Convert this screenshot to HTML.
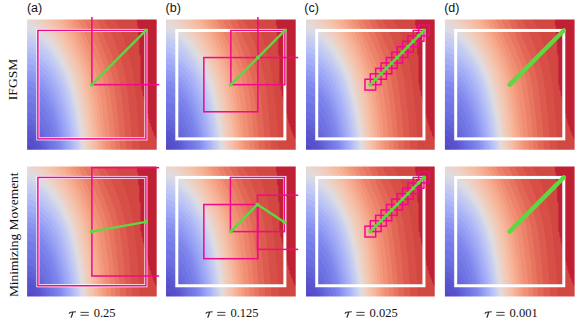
<!DOCTYPE html>
<html><head><meta charset="utf-8">
<style>
html,body{margin:0;padding:0;background:#fff;width:578px;height:322px;overflow:hidden;}
svg{display:block;}
.lab{font-family:"Liberation Sans",sans-serif;font-size:12.5px;fill:#111;}
.rl{font-family:"Liberation Serif",serif;font-size:13.5px;fill:#111;}
.rl2{font-family:"Liberation Serif",serif;font-size:13.4px;fill:#111;}
.cap{font-family:"Liberation Serif",serif;font-size:12.5px;fill:#111;}
.tau{font-style:italic;}
</style></head><body>
<svg width="578" height="322" viewBox="0 0 578 322">
<defs>
<clipPath id="cpo"><rect x="-2.5" y="-2.7" width="135" height="135.4"/></clipPath>
<g id="bg">
<rect x="-3" y="-3" width="136" height="136" fill="rgb(82, 72, 198)"/>
<path d="M-1.5 -2.6 132.6 -2.6 132.6 132.6 8.6 132.6 6.4 129.2 5.4 127.9 3.1 126.1 0.8 125.3 -1.5 125.4 -2.6 125.8 -2.6 -2.6 -1.5 -2.6Z" fill="rgb(87, 79, 203)"/>
<path d="M-1.5 -2.6 132.6 -2.6 132.6 132.6 13.1 132.6 11.3 128.1 9.5 124.6 7.6 121.8 5.4 119.4 4.2 118.5 1.9 117.4 -0.3 117.2 -2.6 117.7 -2.6 -2.6 -1.5 -2.6Z" fill="rgb(91, 86, 208)"/>
<path d="M-1.5 -2.6 132.6 -2.6 132.6 132.6 16.2 132.6 14.4 127 12.2 121.6 9.9 117.6 7.6 114.6 5.4 112.5 3.1 111.1 0.8 110.5 -1.5 110.6 -2.6 110.9 -2.6 -2.6 -1.5 -2.6Z" fill="rgb(96, 94, 213)"/>
<path d="M-1.5 -2.6 132.6 -2.6 132.6 132.6 18.7 132.6 16.8 125.8 14.8 120.1 12.2 114.7 9.8 111 6.7 107.6 4.2 105.8 3.1 105.3 0.8 104.8 -1.5 104.9 -2.6 105.2 -2.6 -2.6 -1.5 -2.6Z" fill="rgb(101, 101, 218)"/>
<path d="M-1.5 -2.6 132.6 -2.6 132.6 132.6 21.2 132.6 19.2 124.6 16.7 117.3 13.9 111 11 106.3 9.4 104.2 7.6 102.4 6.5 101.4 4.2 100 3.1 99.5 0.8 99 -1.5 99.1 -2.6 99.4 -2.6 -2.6 -1.5 -2.6Z" fill="rgb(106, 108, 223)"/>
<path d="M-1.5 -2.6 132.6 -2.6 132.6 132.6 24.1 132.6 22 123.5 19.3 114.4 16.7 108 13.3 101.7 9.9 97.1 7.6 95 5.4 93.4 4.2 92.8 1.9 92.1 -0.3 91.9 -2.6 92.2 -2.6 -2.6 -1.5 -2.6Z" fill="rgb(112, 116, 227)"/>
<path d="M-1.5 -2.6 132.6 -2.6 132.6 132.6 27.7 132.6 25.4 121.2 22.6 111 21.1 106.5 19.2 101.9 17.6 98.5 15.6 94.8 13.3 91.3 11 88.5 8.8 86.3 6.5 84.7 4.2 83.5 1.9 82.9 -0.3 82.7 -2.6 83 -2.6 -2.6 -1.5 -2.6Z" fill="rgb(117, 124, 232)"/>
<path d="M-1.5 -2.6 132.6 -2.6 132.6 132.6 31 132.6 29.9 125.8 28.5 119 25.6 107.6 23.7 101.9 22 97.4 20.1 93.1 17.9 88.7 15.6 85 13.3 81.9 10.8 79.2 7.6 76.6 5.4 75.4 3.1 74.6 0.8 74.2 -2.6 74.4 -2.6 -2.6 -1.5 -2.6Z" fill="rgb(124, 132, 236)"/>
<path d="M-1.5 -2.6 132.6 -2.6 132.6 132.6 33.9 132.6 32.6 124.3 31.4 117.8 29.9 111 28.1 104.2 26.3 98.5 24.2 92.8 21.8 87.2 19.5 82.6 16.7 78.1 14.4 75.1 12 72.4 8.8 69.6 6.5 68.2 3.1 67 0.8 66.6 -2.6 66.9 -2.6 -2.6 -1.5 -2.6Z" fill="rgb(131, 140, 238)"/>
<path d="M-1.5 -2.6 132.6 -2.6 132.6 132.6 36.1 132.6 33.8 117.8 32.1 109.9 30.3 102.9 28.1 95.3 26 89.4 23.5 83.6 21.3 78.9 18.8 74.7 15.6 70.1 12.5 66.7 9.9 64.4 7.6 62.9 4.2 61.4 0.8 60.8 -2.6 61 -2.6 -2.6 -1.5 -2.6Z" fill="rgb(139, 148, 241)"/>
<path d="M-1.5 -2.6 132.6 -2.6 132.6 132.6 38.1 132.6 36.9 123.5 35.5 115.6 33.8 107.2 31.9 99.7 29.9 92.8 27.5 86 24.7 79.2 22.4 74.6 19.8 70.1 16.7 65.6 13.3 61.8 9.9 58.9 6.5 57 3.1 55.8 -0.3 55.5 -2.6 55.7 -2.6 -2.6 -1.5 -2.6Z" fill="rgb(147, 156, 243)"/>
<path d="M-1.5 -2.6 132.6 -2.6 132.6 132.6 40.1 132.6 38.8 122.4 37.2 113.3 35.6 105.3 33.8 97.8 31.5 89.9 29.2 83.2 26.7 76.9 23.5 70.3 20.8 65.6 17.9 61.2 15.6 58.4 12.2 55.4 9.9 53.7 7.6 52.4 4.2 51 0.8 50.3 -2.6 50.5 -2.6 -2.6 -1.5 -2.6Z" fill="rgb(155, 165, 245)"/>
<path d="M-1.5 -2.6 132.6 -2.6 132.6 132.6 42.4 132.6 41.2 122.4 39.7 113.3 38 104.2 35.8 95.1 33.6 87.2 30.9 79.2 28.1 72 25 65.6 22.4 60.9 20.2 57.6 16.7 53.8 12.2 49.7 7.6 46.8 4.2 45.3 0.8 44.5 -0.3 44.4 -2.6 44.6 -2.6 -2.6 -1.5 -2.6Z" fill="rgb(164, 173, 245)"/>
<path d="M-1.5 -2.6 132.6 -2.6 132.6 132.6 44.9 132.6 44 124.7 42.1 112.1 40.6 103.7 38.3 93.6 36 85.1 33 75.8 30.3 68.8 26.9 61.3 24.9 57.6 21.3 52.6 16.7 47.5 12.2 43.5 7.8 40.6 4.2 38.9 0.8 38 -0.3 37.9 -2.6 38.1 -2.6 -2.6 -1.5 -2.6Z" fill="rgb(173, 182, 246)"/>
<path d="M-1.5 -2.6 132.6 -2.6 132.6 132.6 47 132.6 45.7 121.2 44.2 111 42.3 100.8 40.3 91.7 37.9 82.6 35.1 73.5 32.2 65.6 29.2 58.8 25.8 53.2 22.4 48.5 17.9 43.3 13.3 38.9 8.8 35.7 5.4 33.9 3.1 33.1 0.8 32.5 -0.3 32.3 -2.6 32.5 -2.6 -2.6 -1.5 -2.6Z" fill="rgb(182, 191, 246)"/>
<path d="M-1.5 -2.6 132.6 -2.6 132.6 132.6 49.1 132.6 48 122.4 46.6 112.1 44.9 101.9 42.8 92 40.6 82.8 38.2 74.7 35.6 66.7 32.5 58.8 28.7 51.9 24.7 46 20.1 40.4 14.4 34.6 9.9 31 5.4 28.5 3.1 27.6 0.8 26.9 -0.3 26.8 -2.6 27 -2.6 -2.6 -1.5 -2.6Z" fill="rgb(191, 199, 244)"/>
<path d="M-1.5 -2.6 132.6 -2.6 132.6 132.6 51.1 132.6 50 122.4 48.7 112.1 47 101.9 45.1 92.3 42.9 82.6 40.6 74.2 38.3 66.9 35.3 58.8 31.5 51 26.9 43.6 22.4 37.5 16.7 31.4 12.2 27.3 8.8 24.9 6.5 23.6 3.8 22.4 0.8 21.5 -0.3 21.4 -2.6 21.6 -2.6 -2.6 -1.5 -2.6Z" fill="rgb(199, 205, 240)"/>
<path d="M-1.5 -2.6 132.6 -2.6 132.6 132.6 52.8 132.6 51.7 122.4 50.4 112.1 48.8 101.9 47.1 92.8 45.1 83.6 42.8 74.8 40.5 66.7 37.8 58.8 32.8 48.5 28.1 40.6 23.5 34.2 17.9 27.9 14.4 24.6 12.2 22.7 7.6 19.7 4.2 18.1 1.9 17.3 -0.3 16.8 -2.6 17 -2.6 -2.6 -1.5 -2.6Z" fill="rgb(208, 211, 235)"/>
<path d="M-1.5 -2.6 132.6 -2.6 132.6 132.6 54.4 132.6 53.3 121.2 52 111 50.5 100.8 48.8 91.7 46.8 82.6 44.6 73.5 41.9 64.4 39.6 57.6 35.4 48.5 31.1 40.6 25.8 32.6 21.3 27.1 16.7 22.3 14.4 20.2 12.2 18.3 8.8 15.9 5.4 14.1 1.9 12.8 -0.3 12.3 -2.6 12.5 -2.6 -2.6 -1.5 -2.6Z" fill="rgb(216, 218, 230)"/>
<path d="M-1.5 -2.6 132.6 -2.6 132.6 132.6 56.1 132.6 54.9 120.1 53.7 109.9 52.3 100.8 50.2 89.4 48 79.2 45.7 70.1 42.4 58.8 41 55.3 36.3 45.1 31.5 36.4 26.9 29.6 21.3 22.6 16.7 17.9 14.4 15.7 12.2 13.9 8.8 11.5 5.4 9.6 1.9 8.3 -0.3 7.8 -2.6 8 -2.6 -2.6 -1.5 -2.6Z" fill="rgb(224, 219, 222)"/>
<path d="M-1.5 -2.6 132.6 -2.6 132.6 132.6 57.9 132.6 56.7 120.1 55.2 107.6 53.4 96.2 51.3 84.9 48.5 72.7 45.7 62.2 44.2 57.6 40.9 49.7 37.2 41.7 33.5 34.9 29.2 28.1 24.7 22 21.3 18.1 16.7 13.4 13.3 10.3 9.9 7.8 5.4 5.1 1.9 3.7 -0.3 3.1 -2.6 3.3 -2.6 -2.6 -1.5 -2.6Z" fill="rgb(231, 215, 210)"/>
<path d="M-1.5 -2.6 132.6 -2.6 132.6 132.6 59.6 132.6 58.4 119 56.9 106.5 54.9 94 52.6 81.5 50 70.1 46.9 58.8 44.3 51.9 41.4 45.1 37.2 36.5 32.6 28.5 28.1 21.6 23.2 15.6 15.6 7.7 11 4 7.6 1.7 3.1 -0.6 -0.3 -1.6 -2.6 -1.5 -2.6 -2.6 -1.5 -2.6Z" fill="rgb(236, 210, 198)"/>
<path d="M8.8 -2.6 132.6 -2.6 132.6 132.6 61.5 132.6 60.7 122.4 59.6 112.1 58.4 103.1 56.2 89.4 54 78.1 51.7 67.8 49.3 58.8 48 55.3 44.3 46.3 39.4 35.7 34.9 27.3 30.3 20 26.3 14.4 22.4 10 15.6 3.1 12.2 0.2 8.4 -2.6 8.8 -2.6Z" fill="rgb(240, 204, 188)"/>
<path d="M15.6 -2.6 132.6 -2.6 132.6 132.6 63.8 132.6 61.9 112.1 59.2 92.8 57.6 83.5 55.6 73.5 53.5 64.4 51.7 57.6 48.2 48.5 43.6 38.3 39.4 30 34.4 21.3 29.9 14.4 25.8 9.1 22.4 5.4 14.6 -2.6 15.6 -2.6Z" fill="rgb(243, 198, 178)"/>
<path d="M21.3 -2.6 132.6 -2.6 132.6 132.6 66.2 132.6 64.3 112.1 61.8 92.8 60.1 82.6 58.3 73.5 56.3 64.4 54.6 57.6 51.6 49.7 47.9 40.6 43.6 31.5 38.8 22.4 34.9 15.7 30.3 9 25.8 3.3 20.4 -2.6 21.3 -2.6Z" fill="rgb(245, 191, 167)"/>
<path d="M26.9 -2.6 132.6 -2.6 132.6 132.6 68.7 132.6 67 113.3 64.6 94 61.6 75.8 57.9 58.8 54.8 49.7 51.2 40.6 47.6 32.6 43 23.5 39.3 16.7 35.2 9.9 31.5 4.4 26.1 -2.6 26.9 -2.6Z" fill="rgb(246, 182, 156)"/>
<path d="M31.5 -2.6 132.6 -2.6 132.6 132.6 71.1 132.6 69.6 113.3 67.2 94 64.3 75.8 60.9 58.8 58.3 50.8 55.3 42.9 52.6 36 49.5 29.2 44 18.2 40.6 11.9 37.2 6.2 32.8 -0.3 31.5 -2.6Z" fill="rgb(246, 174, 146)"/>
<path d="M37.2 -2.6 132.6 -2.6 132.6 132.6 73.7 132.6 73 122.4 71.9 111 69.6 91.7 67.3 76.9 63.8 58.8 58.9 44 54 31.5 49.8 22.4 47 16.7 42.1 7.6 36.1 -2.6 37.2 -2.6Z" fill="rgb(245, 164, 136)"/>
<path d="M40.6 -2.6 132.6 -2.6 132.6 132.6 76.6 132.6 75.1 113.3 73 94 70.3 75.8 67.2 58.8 64.7 50.8 61.9 42.8 59.3 36 55.9 28.1 49.7 14.5 41.5 -0.3 40.4 -2.6 40.6 -2.6Z" fill="rgb(243, 154, 126)"/>
<path d="M45.1 -2.6 132.6 -2.6 132.6 132.6 79.7 132.6 78.6 116.7 76.4 95.1 74.2 79.2 70.7 58.8 65.1 41.7 59.9 28.2 56.4 20.1 53.1 13 49.7 6.5 45.7 -0.3 44.6 -2.6 45.1 -2.6Z" fill="rgb(240, 143, 116)"/>
<path d="M49.7 -2.6 132.6 -2.6 132.6 132.6 84.3 132.6 83 113.3 81.2 95.1 78.8 76.9 75.9 58.8 71.5 46.3 67 34.9 57.5 13.3 54.2 6.5 50.6 -0.3 49.7 -2.6Z" fill="rgb(237, 130, 106)"/>
<path d="M55.3 -2.6 132.6 -2.6 132.6 132.6 89 132.6 87.8 113.3 86.1 95.1 83.8 76.9 81.1 58.8 79 51.9 75.8 42.7 71 30.3 64.4 15.4 60.5 7.6 56.1 -0.3 55.1 -2.6 55.3 -2.6Z" fill="rgb(231, 117, 96)"/>
<path d="M63.3 -2.6 132.6 -2.6 132.6 132.6 93.7 132.6 92.4 112.1 91.1 97.4 88.9 78.1 86.1 58.8 83.2 48.5 79.7 38.3 70.8 15.6 66.7 6.5 63.3 -0.3 62.5 -2.6 63.3 -2.6Z" fill="rgb(226, 103, 86)"/>
<path d="M70.1 -2.6 132.6 -2.6 132.6 132.6 99.5 132.6 98.3 113.3 96.8 95.1 94.8 76.9 92.4 58.8 89.4 47.7 86 37.3 83.3 30.3 78.1 18.9 74.4 9.9 69.9 -0.3 69.2 -2.6 70.1 -2.6Z" fill="rgb(220, 91, 78)"/>
<path d="M76.9 -2.6 132.6 -2.6 132.6 132.6 105.6 132.6 104.5 113.3 103 94 101 74.7 98.7 57.6 97.1 50.8 94.7 41.7 90.3 28.1 87.3 20.1 84.3 13.3 81.5 7.6 77.6 0.8 76.4 -2.6 76.9 -2.6Z" fill="rgb(215, 79, 71)"/>
<path d="M87.2 -2.6 132.6 -2.6 132.6 132.6 113.1 132.6 112.8 123.5 112.1 115.1 111.8 106.5 111 98.8 110.5 90.6 109.9 85.7 109.3 78.1 108.7 74.7 108.3 69 107.6 64.6 107.1 58.8 106.5 56.3 105.9 51.9 104.5 45.1 102 34.9 100.4 29.2 97.9 21.3 95.8 15.6 93.8 11 91.1 5.4 87.9 -0.3 86.9 -2.6 87.2 -2.6Z" fill="rgb(210, 71, 66)"/>
<path d="M111 -2.6 132.6 -2.6 132.6 132.6 129.7 132.6 129.2 128.1 129.1 119 128.1 117.8 128.1 116.7 127 115.6 127 113.3 125.8 112.1 125.8 111 124.7 109.9 124.7 107.6 123.6 106.5 123.6 104.2 122.5 103.1 122.5 99.7 121.4 98.5 121.4 95.1 120.2 94 120.2 90.6 119.1 89.4 119.1 86 118 84.9 118 81.5 116.9 80.3 116.9 76.9 115.7 75.8 115.7 71.2 114.6 70.1 114.6 65.6 113.5 64.4 113.4 36 112.3 34.9 112.3 19 111.2 17.9 111.1 6.5 110 5.4 110 -2.6 111 -2.6Z" fill="rgb(206, 62, 62)"/>
<path d="M111 -2.6 132.6 -2.6 132.6 122 128.4 117.8 128.4 116.7 127.3 115.6 127.3 113.3 126.2 112.1 126.2 111 125.1 109.9 125.1 107.6 124 106.5 124 104.2 122.8 103.1 122.8 99.7 121.7 98.5 121.7 95.1 120.6 94 120.6 90.6 119.4 89.4 119.4 86 118.3 84.9 118.3 81.5 117.2 80.3 117.2 76.9 116.1 75.8 116.1 71.2 114.9 70.1 114.9 65.6 113.8 64.4 113.8 36 112.6 34.9 112.6 19 111.5 17.9 111.5 6.5 110.3 5.4 110.3 -2.6 111 -2.6Z" fill="rgb(197, 40, 55)"/>
<path d="M111 -2.6 132.6 -2.6 132.6 121.6 128.8 117.8 128.8 116.7 127.7 115.6 127.7 113.3 126.6 112.1 126.6 111 125.4 109.9 125.4 107.6 124.3 106.5 124.3 104.2 123.2 103.1 123.2 99.7 122 98.5 122 95.1 120.9 94 120.9 90.6 119.8 89.4 119.8 86 118.6 84.9 118.6 81.5 117.5 80.3 117.5 76.9 116.4 75.8 116.4 71.2 115.2 70.1 115.2 65.6 114.1 64.4 114.1 36 113 34.9 112.9 19 111.8 17.9 111.8 6.5 110.7 5.4 110.7 -2.6 111 -2.6Z" fill="rgb(192, 32, 52)"/>
</g>
</defs>
<g transform="translate(27.10,19.60) scale(0.9969,1.0008)"><use href="#bg"/><path d="M-4 -4H134V134H-4ZM0 0V130H130V0Z" fill="#fff" fill-rule="evenodd"/><g clip-path="url(#cpo)"><rect x="10.83" y="10.83" width="108.33" height="108.33" fill="none" stroke="white" stroke-width="3"/>
<rect x="10.83" y="10.83" width="108.33" height="108.33" fill="none" stroke="rgb(242,8,140)" stroke-width="1.5"/>
<rect x="65.00" y="-43.33" width="108.33" height="108.33" fill="none" stroke="rgb(242,8,140)" stroke-width="1.5"/>
<polyline points="65.00,65.00 119.17,10.83" fill="none" stroke="rgb(95,215,65)" stroke-width="2.4" stroke-linejoin="round"/>
<circle cx="65.00" cy="65.00" r="2.0" fill="rgb(95,215,65)"/>
<circle cx="119.17" cy="10.83" r="2.0" fill="rgb(95,215,65)"/></g></g>
<g transform="translate(166.00,19.60) scale(0.9977,1.0008)"><use href="#bg"/><path d="M-4 -4H134V134H-4ZM0 0V130H130V0Z" fill="#fff" fill-rule="evenodd"/><g clip-path="url(#cpo)"><rect x="10.83" y="10.83" width="108.33" height="108.33" fill="none" stroke="white" stroke-width="3"/>
<rect x="37.92" y="37.92" width="54.17" height="54.17" fill="none" stroke="rgb(242,8,140)" stroke-width="1.5"/>
<rect x="65.00" y="10.83" width="54.17" height="54.17" fill="none" stroke="rgb(242,8,140)" stroke-width="1.5"/>
<rect x="92.08" y="-16.25" width="54.17" height="54.17" fill="none" stroke="rgb(242,8,140)" stroke-width="1.5"/>
<polyline points="65.00,65.00 92.08,37.92 119.17,10.83" fill="none" stroke="rgb(95,215,65)" stroke-width="2.4" stroke-linejoin="round"/>
<circle cx="65.00" cy="65.00" r="2.0" fill="rgb(95,215,65)"/>
<circle cx="92.08" cy="37.92" r="2.0" fill="rgb(95,215,65)"/>
<circle cx="119.17" cy="10.83" r="2.0" fill="rgb(95,215,65)"/></g></g>
<g transform="translate(306.00,19.60) scale(0.9900,1.0008)"><use href="#bg"/><path d="M-4 -4H134V134H-4ZM0 0V130H130V0Z" fill="#fff" fill-rule="evenodd"/><g clip-path="url(#cpo)"><rect x="10.83" y="10.83" width="108.33" height="108.33" fill="none" stroke="white" stroke-width="3"/>
<rect x="59.58" y="59.58" width="10.83" height="10.83" fill="none" stroke="rgb(242,8,140)" stroke-width="1.5"/>
<rect x="65.00" y="54.17" width="10.83" height="10.83" fill="none" stroke="rgb(242,8,140)" stroke-width="1.5"/>
<rect x="70.42" y="48.75" width="10.83" height="10.83" fill="none" stroke="rgb(242,8,140)" stroke-width="1.5"/>
<rect x="75.83" y="43.33" width="10.83" height="10.83" fill="none" stroke="rgb(242,8,140)" stroke-width="1.5"/>
<rect x="81.25" y="37.92" width="10.83" height="10.83" fill="none" stroke="rgb(242,8,140)" stroke-width="1.5"/>
<rect x="86.67" y="32.50" width="10.83" height="10.83" fill="none" stroke="rgb(242,8,140)" stroke-width="1.5"/>
<rect x="92.08" y="27.08" width="10.83" height="10.83" fill="none" stroke="rgb(242,8,140)" stroke-width="1.5"/>
<rect x="97.50" y="21.67" width="10.83" height="10.83" fill="none" stroke="rgb(242,8,140)" stroke-width="1.5"/>
<rect x="102.92" y="16.25" width="10.83" height="10.83" fill="none" stroke="rgb(242,8,140)" stroke-width="1.5"/>
<rect x="108.33" y="10.83" width="10.83" height="10.83" fill="none" stroke="rgb(242,8,140)" stroke-width="1.5"/>
<rect x="113.75" y="5.42" width="10.83" height="10.83" fill="none" stroke="rgb(242,8,140)" stroke-width="1.5"/>
<polyline points="65.00,65.00 70.42,59.58 75.83,54.17 81.25,48.75 86.67,43.33 92.08,37.92 97.50,32.50 102.92,27.08 108.33,21.67 113.75,16.25 119.17,10.83" fill="none" stroke="rgb(95,215,65)" stroke-width="2.4" stroke-linejoin="round"/>
<circle cx="65.00" cy="65.00" r="2.0" fill="rgb(95,215,65)"/>
<circle cx="70.42" cy="59.58" r="2.0" fill="rgb(95,215,65)"/>
<circle cx="75.83" cy="54.17" r="2.0" fill="rgb(95,215,65)"/>
<circle cx="81.25" cy="48.75" r="2.0" fill="rgb(95,215,65)"/>
<circle cx="86.67" cy="43.33" r="2.0" fill="rgb(95,215,65)"/>
<circle cx="92.08" cy="37.92" r="2.0" fill="rgb(95,215,65)"/>
<circle cx="97.50" cy="32.50" r="2.0" fill="rgb(95,215,65)"/>
<circle cx="102.92" cy="27.08" r="2.0" fill="rgb(95,215,65)"/>
<circle cx="108.33" cy="21.67" r="2.0" fill="rgb(95,215,65)"/>
<circle cx="113.75" cy="16.25" r="2.0" fill="rgb(95,215,65)"/>
<circle cx="119.17" cy="10.83" r="2.0" fill="rgb(95,215,65)"/></g></g>
<g transform="translate(444.90,19.60) scale(0.9977,1.0008)"><use href="#bg"/><path d="M-4 -4H134V134H-4ZM0 0V130H130V0Z" fill="#fff" fill-rule="evenodd"/><g clip-path="url(#cpo)"><rect x="10.83" y="10.83" width="108.33" height="108.33" fill="none" stroke="white" stroke-width="3"/>
<line x1="65.00" y1="65.00" x2="119.17" y2="10.83" stroke="rgb(95,215,65)" stroke-width="4.4" stroke-linecap="round"/></g></g>
<g transform="translate(27.10,166.60) scale(0.9969,1.0000)"><use href="#bg"/><path d="M-4 -4H134V134H-4ZM0 0V130H130V0Z" fill="#fff" fill-rule="evenodd"/><g clip-path="url(#cpo)"><rect x="10.83" y="10.83" width="108.33" height="108.33" fill="none" stroke="white" stroke-width="3"/>
<rect x="10.83" y="10.83" width="108.33" height="108.33" fill="none" stroke="rgb(242,8,140)" stroke-width="1.5"/>
<rect x="65.00" y="1.08" width="108.33" height="108.33" fill="none" stroke="rgb(242,8,140)" stroke-width="1.5"/>
<polyline points="65.00,65.00 119.17,55.25" fill="none" stroke="rgb(95,215,65)" stroke-width="2.4" stroke-linejoin="round"/>
<circle cx="65.00" cy="65.00" r="2.0" fill="rgb(95,215,65)"/>
<circle cx="119.17" cy="55.25" r="2.0" fill="rgb(95,215,65)"/></g></g>
<g transform="translate(166.00,166.60) scale(0.9977,1.0000)"><use href="#bg"/><path d="M-4 -4H134V134H-4ZM0 0V130H130V0Z" fill="#fff" fill-rule="evenodd"/><g clip-path="url(#cpo)"><rect x="10.83" y="10.83" width="108.33" height="108.33" fill="none" stroke="white" stroke-width="3"/>
<rect x="37.92" y="37.92" width="54.17" height="54.17" fill="none" stroke="rgb(242,8,140)" stroke-width="1.5"/>
<rect x="64.57" y="10.83" width="54.17" height="54.17" fill="none" stroke="rgb(242,8,140)" stroke-width="1.5"/>
<rect x="91.65" y="28.60" width="54.17" height="54.17" fill="none" stroke="rgb(242,8,140)" stroke-width="1.5"/>
<polyline points="65.00,65.00 91.65,37.92 118.73,55.68" fill="none" stroke="rgb(95,215,65)" stroke-width="2.4" stroke-linejoin="round"/>
<circle cx="65.00" cy="65.00" r="2.0" fill="rgb(95,215,65)"/>
<circle cx="91.65" cy="37.92" r="2.0" fill="rgb(95,215,65)"/>
<circle cx="118.73" cy="55.68" r="2.0" fill="rgb(95,215,65)"/></g></g>
<g transform="translate(306.00,166.60) scale(0.9900,1.0000)"><use href="#bg"/><path d="M-4 -4H134V134H-4ZM0 0V130H130V0Z" fill="#fff" fill-rule="evenodd"/><g clip-path="url(#cpo)"><rect x="10.83" y="10.83" width="108.33" height="108.33" fill="none" stroke="white" stroke-width="3"/>
<rect x="59.58" y="59.58" width="10.83" height="10.83" fill="none" stroke="rgb(242,8,140)" stroke-width="1.5"/>
<rect x="65.00" y="54.17" width="10.83" height="10.83" fill="none" stroke="rgb(242,8,140)" stroke-width="1.5"/>
<rect x="70.42" y="48.75" width="10.83" height="10.83" fill="none" stroke="rgb(242,8,140)" stroke-width="1.5"/>
<rect x="75.83" y="43.33" width="10.83" height="10.83" fill="none" stroke="rgb(242,8,140)" stroke-width="1.5"/>
<rect x="81.25" y="37.92" width="10.83" height="10.83" fill="none" stroke="rgb(242,8,140)" stroke-width="1.5"/>
<rect x="86.67" y="32.50" width="10.83" height="10.83" fill="none" stroke="rgb(242,8,140)" stroke-width="1.5"/>
<rect x="92.08" y="27.08" width="10.83" height="10.83" fill="none" stroke="rgb(242,8,140)" stroke-width="1.5"/>
<rect x="97.50" y="21.67" width="10.83" height="10.83" fill="none" stroke="rgb(242,8,140)" stroke-width="1.5"/>
<rect x="102.92" y="16.25" width="10.83" height="10.83" fill="none" stroke="rgb(242,8,140)" stroke-width="1.5"/>
<rect x="108.33" y="10.83" width="10.83" height="10.83" fill="none" stroke="rgb(242,8,140)" stroke-width="1.5"/>
<rect x="113.75" y="5.42" width="10.83" height="10.83" fill="none" stroke="rgb(242,8,140)" stroke-width="1.5"/>
<polyline points="65.00,65.00 70.42,59.58 75.83,54.17 81.25,48.75 86.67,43.33 92.08,37.92 97.50,32.50 102.92,27.08 108.33,21.67 113.75,16.25 119.17,10.83" fill="none" stroke="rgb(95,215,65)" stroke-width="2.4" stroke-linejoin="round"/>
<circle cx="65.00" cy="65.00" r="2.0" fill="rgb(95,215,65)"/>
<circle cx="70.42" cy="59.58" r="2.0" fill="rgb(95,215,65)"/>
<circle cx="75.83" cy="54.17" r="2.0" fill="rgb(95,215,65)"/>
<circle cx="81.25" cy="48.75" r="2.0" fill="rgb(95,215,65)"/>
<circle cx="86.67" cy="43.33" r="2.0" fill="rgb(95,215,65)"/>
<circle cx="92.08" cy="37.92" r="2.0" fill="rgb(95,215,65)"/>
<circle cx="97.50" cy="32.50" r="2.0" fill="rgb(95,215,65)"/>
<circle cx="102.92" cy="27.08" r="2.0" fill="rgb(95,215,65)"/>
<circle cx="108.33" cy="21.67" r="2.0" fill="rgb(95,215,65)"/>
<circle cx="113.75" cy="16.25" r="2.0" fill="rgb(95,215,65)"/>
<circle cx="119.17" cy="10.83" r="2.0" fill="rgb(95,215,65)"/></g></g>
<g transform="translate(444.90,166.60) scale(0.9977,1.0000)"><use href="#bg"/><path d="M-4 -4H134V134H-4ZM0 0V130H130V0Z" fill="#fff" fill-rule="evenodd"/><g clip-path="url(#cpo)"><rect x="10.83" y="10.83" width="108.33" height="108.33" fill="none" stroke="white" stroke-width="3"/>
<line x1="65.00" y1="65.00" x2="119.17" y2="10.83" stroke="rgb(95,215,65)" stroke-width="4.4" stroke-linecap="round"/></g></g>
<text class="lab" x="26.9" y="11.7">(a)</text>
<text class="lab" x="165.6" y="11.7">(b)</text>
<text class="lab" x="304.3" y="11.7">(c)</text>
<text class="lab" x="444.2" y="11.7">(d)</text>
<text class="rl" transform="translate(17.1,79.5) rotate(-90)" text-anchor="middle">IFGSM</text>
<text class="rl2" transform="translate(17.5,234.8) rotate(-90)" text-anchor="middle">Minimizing Movement</text>
<rect x="80.5" y="311.9" width="8.3" height="0.85" fill="#222"/><rect x="80.5" y="314.8" width="8.3" height="0.85" fill="#222"/>
<text class="cap" x="93.7" y="317.2">0.25</text>
<rect x="217.2" y="311.9" width="8.3" height="0.85" fill="#222"/><rect x="217.2" y="314.8" width="8.3" height="0.85" fill="#222"/>
<text class="cap" x="230.4" y="317.2">0.125</text>
<rect x="356.3" y="311.9" width="8.3" height="0.85" fill="#222"/><rect x="356.3" y="314.8" width="8.3" height="0.85" fill="#222"/>
<text class="cap" x="369.5" y="317.2">0.025</text>
<rect x="496.3" y="311.9" width="8.3" height="0.85" fill="#222"/><rect x="496.3" y="314.8" width="8.3" height="0.85" fill="#222"/>
<text class="cap" x="509.5" y="317.2">0.001</text>
<g transform="translate(69.3,0)" fill="none" stroke="#2a2a2a"><path d="M-0.2 313.7Q0.3 312.5 1.5 312.3L6.7 311.7" stroke-width="1.05"/><path d="M3.4 312.3Q3 314.9 1.9 317.1" stroke-width="1.25" stroke-linecap="round"/></g>
<g transform="translate(206.0,0)" fill="none" stroke="#2a2a2a"><path d="M-0.2 313.7Q0.3 312.5 1.5 312.3L6.7 311.7" stroke-width="1.05"/><path d="M3.4 312.3Q3 314.9 1.9 317.1" stroke-width="1.25" stroke-linecap="round"/></g>
<g transform="translate(345.1,0)" fill="none" stroke="#2a2a2a"><path d="M-0.2 313.7Q0.3 312.5 1.5 312.3L6.7 311.7" stroke-width="1.05"/><path d="M3.4 312.3Q3 314.9 1.9 317.1" stroke-width="1.25" stroke-linecap="round"/></g>
<g transform="translate(485.1,0)" fill="none" stroke="#2a2a2a"><path d="M-0.2 313.7Q0.3 312.5 1.5 312.3L6.7 311.7" stroke-width="1.05"/><path d="M3.4 312.3Q3 314.9 1.9 317.1" stroke-width="1.25" stroke-linecap="round"/></g>
</svg>
</body></html>
